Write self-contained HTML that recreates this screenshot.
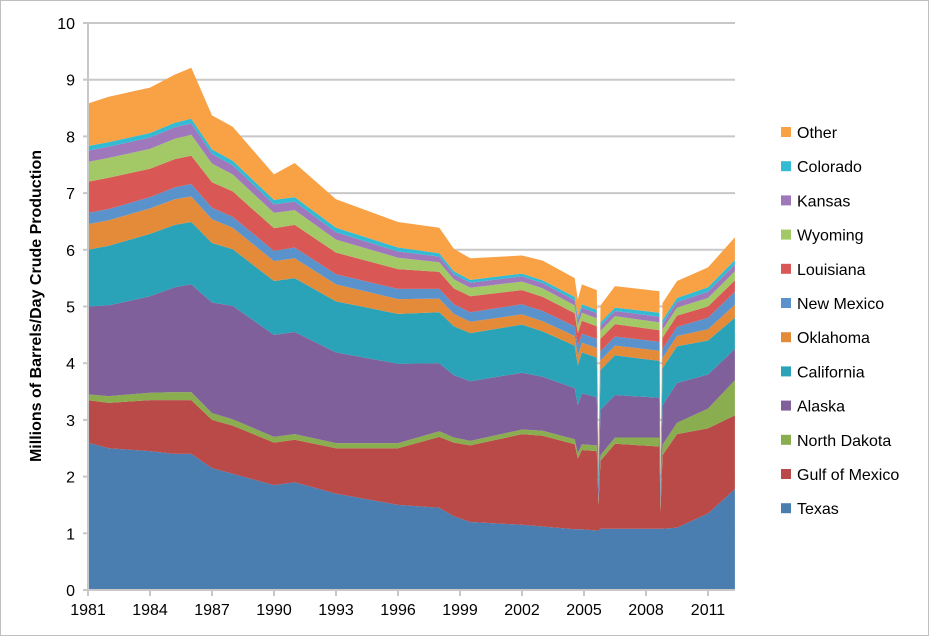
<!DOCTYPE html>
<html><head><meta charset="utf-8"><style>
html,body{margin:0;padding:0;background:#fff}
svg{display:block;font-family:"Liberation Sans",Arial,sans-serif}
</style></head><body>
<svg id="chart" width="932" height="638" viewBox="0 0 932 638" xmlns="http://www.w3.org/2000/svg">
<rect x="0.5" y="0.5" width="928" height="635" fill="#fff" stroke="#bfbfbf"/>
<g id="grid"></g>
<g id="areas"></g>
<g id="axes"></g>
<text transform="translate(41,306) rotate(-90)" text-anchor="middle" font-size="16" font-weight="bold" fill="#000">Millions of Barrels/Day Crude Production</text>
<g id="legend"></g>
</svg>
<script>
const years = [1981,1982,1984,1985.2,1986,1987,1988,1990,1991,1993,1996,1998,1998.7,1999.5,2002,2003,2004.55,2004.7,2004.9,2005.62,2005.7,2005.8,2006.5,2008.65,2008.7,2008.8,2009.5,2011,2012.3];
const seriesNames = ["Texas","Gulf of Mexico","North Dakota","Alaska","California","Oklahoma","New Mexico","Louisiana","Wyoming","Kansas","Colorado","Other"];
const texas    = [2.6,2.5,2.45,2.4,2.4,2.15,2.05,1.85,1.9,1.7,1.5,1.45,1.3,1.2,1.15,1.12,1.07,1.07,1.07,1.05,1.05,1.08,1.08,1.08,1.08,1.08,1.1,1.35,1.78];
const gulf     = [0.75,0.8,0.9,0.95,0.95,0.85,0.85,0.75,0.75,0.8,1.0,1.25,1.3,1.35,1.6,1.6,1.5,1.25,1.4,1.4,0.45,1.2,1.5,1.45,0.3,1.3,1.65,1.5,1.3];
const nd       = [0.1,0.12,0.13,0.14,0.14,0.12,0.11,0.1,0.1,0.09,0.09,0.1,0.09,0.08,0.08,0.09,0.09,0.09,0.1,0.1,0.05,0.1,0.11,0.16,0.1,0.18,0.2,0.35,0.62];
const alaska   = [1.55,1.6,1.7,1.85,1.9,1.95,2.0,1.8,1.8,1.6,1.4,1.2,1.1,1.05,1.0,0.95,0.9,0.85,0.9,0.85,0.2,0.8,0.75,0.7,0.15,0.7,0.7,0.6,0.55];
const california=[1.0,1.05,1.1,1.1,1.1,1.05,1.0,0.95,0.95,0.9,0.88,0.9,0.86,0.85,0.85,0.8,0.75,0.7,0.72,0.7,0.2,0.7,0.7,0.65,0.15,0.65,0.65,0.6,0.55];
const oklahoma = [0.45,0.45,0.45,0.45,0.45,0.42,0.38,0.35,0.35,0.3,0.26,0.24,0.22,0.2,0.18,0.18,0.17,0.17,0.17,0.17,0.05,0.17,0.17,0.18,0.05,0.18,0.18,0.2,0.23];
const newMexico= [0.2,0.2,0.2,0.21,0.22,0.2,0.19,0.18,0.19,0.18,0.18,0.17,0.17,0.17,0.18,0.18,0.17,0.17,0.16,0.16,0.05,0.16,0.16,0.16,0.05,0.16,0.16,0.2,0.23];
const louisiana= [0.55,0.55,0.5,0.5,0.5,0.45,0.45,0.4,0.4,0.38,0.35,0.3,0.28,0.28,0.25,0.25,0.23,0.23,0.23,0.22,0.05,0.22,0.22,0.2,0.05,0.2,0.2,0.2,0.2];
const wyoming  = [0.35,0.35,0.35,0.36,0.37,0.33,0.3,0.27,0.26,0.23,0.2,0.17,0.16,0.15,0.15,0.15,0.14,0.14,0.14,0.14,0.04,0.14,0.14,0.14,0.04,0.14,0.14,0.15,0.16];
const kansas   = [0.2,0.2,0.2,0.2,0.2,0.17,0.16,0.15,0.15,0.13,0.11,0.1,0.09,0.09,0.09,0.09,0.09,0.09,0.09,0.09,0.03,0.09,0.09,0.1,0.03,0.1,0.1,0.11,0.12];
const colorado = [0.08,0.08,0.08,0.08,0.08,0.08,0.08,0.08,0.08,0.08,0.07,0.06,0.05,0.05,0.05,0.05,0.06,0.06,0.06,0.06,0.02,0.06,0.06,0.07,0.02,0.07,0.07,0.08,0.08];
const other    = [0.75,0.8,0.8,0.85,0.9,0.6,0.6,0.45,0.6,0.5,0.45,0.45,0.4,0.38,0.32,0.35,0.33,0.3,0.35,0.35,0.1,0.3,0.38,0.38,0.1,0.3,0.3,0.35,0.4];
const yTicks = [0,1,2,3,4,5,6,7,8,9,10];
const xTicks = [1981,1984,1987,1990,1993,1996,1999,2002,2005,2008,2011];

const seriesValues=[texas,gulf,nd,alaska,california,oklahoma,newMexico,louisiana,wyoming,kansas,colorado,other];
const colors=["#4a7db0","#b94a48","#8aad4f","#80609a","#2aa3b8","#e38b38","#5a93cc","#d95754","#a3c866","#9f78bc","#32bbd2","#f9a145"];
const NS="http://www.w3.org/2000/svg";
const X0=88,X1=735,Y0=590,Y10=23;
const xs=y=>X0+(y-1981)*(708-88)/30;
const ys=v=>Y0-v*(Y0-Y10)/10;
function mk(tag,attrs,parent){const e=document.createElementNS(NS,tag);for(const k in attrs)e.setAttribute(k,attrs[k]);parent.appendChild(e);return e;}
const grid=document.getElementById('grid'),axes=document.getElementById('axes'),areas=document.getElementById('areas'),legend=document.getElementById('legend');
yTicks.forEach(t=>{
  if(t>0){const l=mk('line',{x1:X0,x2:X1,y1:ys(t),y2:ys(t),stroke:'#c8c8c8','stroke-width':2},grid);
  
  }
  const tk=mk('line',{x1:X0-5,x2:X0,y1:ys(t),y2:ys(t),stroke:'#c8c8c8','stroke-width':2},axes);
  
  
  const tx=mk('text',{x:X0-13,y:ys(t)+6,'text-anchor':'end','font-size':16,fill:'#000'},axes);tx.textContent=t;
  
  
});
let base=years.map(()=>0);
seriesValues.forEach((vals,i)=>{
  const top=base.map((b,j)=>b+vals[j]);
  let d='M'+years.map((y,j)=>xs(y).toFixed(1)+','+ys(top[j]).toFixed(1)).join('L');
  for(let j=years.length-1;j>=0;j--)d+='L'+xs(years[j]).toFixed(1)+','+ys(base[j]).toFixed(1);
  const p=mk('path',{d:d+'Z',fill:colors[i]},areas);
  
  
  base=top;
});
const ax=mk('line',{x1:X0,x2:X0,y1:Y10,y2:Y0,stroke:'#c8c8c8','stroke-width':2},axes);


const bx=mk('line',{x1:X0,x2:X1,y1:Y0,y2:Y0,stroke:'#c8c8c8','stroke-width':2},axes);


xTicks.forEach(t=>{
  const tk=mk('line',{x1:xs(t),x2:xs(t),y1:Y0,y2:Y0+6,stroke:'#c8c8c8','stroke-width':2},axes);
  
  
  const tx=mk('text',{x:xs(t),y:Y0+25,'text-anchor':'middle','font-size':16,fill:'#000'},axes);tx.textContent=t;
  
  
});
for(let i=seriesNames.length-1;i>=0;i--){
  const y=133+(11-i)*34.2;
  const g=mk('g',{},legend);
  
  
  mk('rect',{x:781,y:y-6,width:10,height:10,fill:colors[i]},g);
  const t=mk('text',{x:797,y:y+5,'font-size':16,fill:'#000'},g);t.textContent=seriesNames[i];
}
</script>
</body></html>
